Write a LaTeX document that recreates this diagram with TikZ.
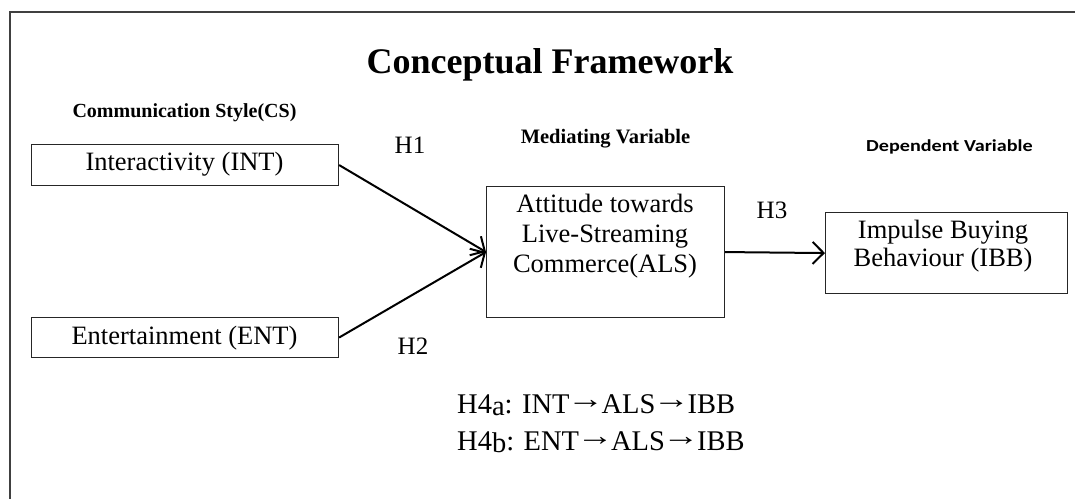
\documentclass[tikz,border=0pt]{standalone}
\usepackage{fontspec}
\setmainfont{Liberation Serif}
\newfontfamily\calib{Carlito}
\usetikzlibrary{arrows.meta}
\newcommand{\harr}{\kern-2.5pt\raisebox{4.2pt}{\scalebox{1.3}[1]{→}}\kern-2.5pt}
\newcommand{\lowlet}[1]{\raisebox{-2pt}{#1}}
\tikzset{
  vbox/.style={draw=black!85, line width=1.1pt, inner sep=0pt, anchor=north west},
  boxtext/.style={font=\fontsize{26.5}{30}\selectfont, anchor=base, inner sep=0pt},
  hlabel/.style={font=\fontsize{25}{30}\selectfont, anchor=base, inner sep=0pt},
  headlabel/.style={font=\fontsize{20}{24}\selectfont\bfseries, anchor=base, inner sep=0pt},
  hyptext/.style={font=\fontsize{28.5}{32}\selectfont, anchor=base west, inner sep=0pt},
  arr/.style={line width=2pt, -{Straight Barb[length=11pt,width=22pt,line width=2pt]}},
}
\begin{document}
\begin{tikzpicture}[x=1pt,y=-1pt]
\useasboundingbox (0,0) rectangle (1075,498);
% frame
\draw[black!75, line width=1.5pt] (10,500) -- (10,12) -- (1077,12);
% title
\node[anchor=base, inner sep=0pt, font=\fontsize{36}{40}\selectfont\bfseries] (title) at (550,73) {Conceptual Framework};
% headings
\node[headlabel] (cs) at (184.5,117) {Communication Style(CS)};
\node[headlabel, font=\fontsize{20.5}{24}\selectfont\bfseries] (mv) at (605.5,143) {Mediating Variable};
\node[anchor=base, inner sep=0pt] (dv) at (949.5,151) {\scalebox{1.2}[1]{\calib\fontsize{16.8}{20}\selectfont\bfseries Dependent Variable}};
% boxes
\node[vbox, minimum width=307pt, minimum height=41pt] (int) at (31,144) {};
\node[boxtext] (intt) at (184.5,170.5) {Interactivity (INT)};
\node[vbox, minimum width=307pt, minimum height=40pt] (ent) at (31,317) {};
\node[boxtext] (entt) at (184.5,344) {Entertainment (ENT)};
\node[vbox, minimum width=238pt, minimum height=131pt] (als) at (486,186) {};
\node[boxtext] (als1) at (605,212) {Attitude towards};
\node[boxtext] (als2) at (605,242) {Live-Streaming};
\node[boxtext] (als3) at (605,272) {Commerce(ALS)};
\node[vbox, minimum width=242pt, minimum height=81pt] (ibb) at (825,212) {};
\node[boxtext] (ibb1) at (943,238) {Impulse Buying};
\node[boxtext] (ibb2) at (943,266) {Behaviour (IBB)};
% arrows
\draw[arr] (int.east) -- (als.west);
\draw[arr] (ent.east) -- (als.west);
\draw[arr] (als.east) -- (ibb.west);
% hypothesis labels
\node[hlabel] (h1) at (410,153) {H1};
\node[hlabel] (h2) at (413,354) {H2};
\node[hlabel] (h3) at (772,218) {H3};
\node[hyptext] (h4a) at (457,413) {H4\lowlet{a}: INT\harr ALS\harr IBB};
\node[hyptext] (h4b) at (457,450) {H4\lowlet{b}: ENT\harr ALS\harr IBB};
\end{tikzpicture}
\end{document}
